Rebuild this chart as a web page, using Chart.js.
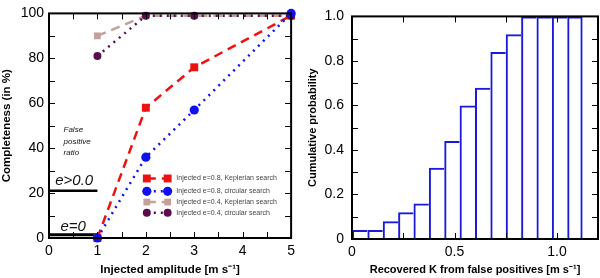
<!DOCTYPE html>
<html><head><meta charset="utf-8">
<script src="https://cdn.jsdelivr.net/npm/chart.js@4.4.0/dist/chart.umd.min.js"></script>
<style>
html,body{margin:0;padding:0;background:#fff;}
#wrap{position:relative;width:600px;height:278px;}
canvas{position:absolute;top:0;}
#c1{left:0;} #c2{left:300px;}
</style></head><body>
<div id="wrap"><canvas id="c1" width="300" height="278"></canvas><canvas id="c2" width="300" height="278"></canvas></div>
<script>
// ---- data: left panel ----
const amplitudes = [1, 2, 3, 5];
const e08Keplerian = [0, 58, 76, 99];
const e08Circular = [0, 36, 57, 100];
const e04Keplerian = [90, 99, 99, 99];
const e04Circular = [81, 99, 99, 99];
const seriesLabels = ['Injected e=0.8, Keplerian search','Injected e=0.8, circular search','Injected e=0.4, Keplerian search','Injected e=0.4, circular search'];
const falsePositiveLevels = [21, 1.5];       // e>0.0, e=0
const falsePositiveNames = ['e>0.0', 'e=0'];
const xTicksLeft = [0, 1, 2, 3, 4, 5];
const yTicksLeft = [0, 20, 40, 60, 80, 100];
// ---- data: right panel ----
const kBinLeftEdges = [0, 0.075, 0.15, 0.225, 0.3, 0.375, 0.45, 0.525, 0.6, 0.675, 0.75, 0.825, 0.9, 0.975, 1.05];
const kBinWidth = 0.075;
const cumulativeProb = [0.04, 0.04, 0.08, 0.12, 0.16, 0.32, 0.44, 0.60, 0.68, 0.84, 0.92, 1, 1, 1, 1];
const xTicksRight = [0, 0.5, 1];
const yTicksRight = [0, 0.2, 0.4, 0.6, 0.8, 1];

const FONT = '"Liberation Sans", Arial, Helvetica, sans-serif';
Chart.defaults.font.family = FONT;
Chart.defaults.color = '#000';

function frameTicks(xMinor, yMinor) {
  return {
    id: 'frameTicks',
    afterDraw(chart) {
      const {ctx, chartArea: a, scales: {x, y}} = chart;
      ctx.save();
      ctx.strokeStyle = '#000';
      ctx.lineWidth = 1;
      const xs = [];
      for (let v = x.min; v <= x.max + 1e-9; v += xMinor) xs.push(v);
      const ys = [];
      for (let v = y.min; v <= y.max + 1e-9; v += yMinor) ys.push(v);
      ctx.beginPath();
      xs.forEach(v => {
        const p = Math.round(x.getPixelForValue(v)) + 0.5;
        if (p <= a.left + 1 || p >= a.right - 1) return;
        ctx.moveTo(p, a.bottom); ctx.lineTo(p, a.bottom - 6);
        ctx.moveTo(p, a.top); ctx.lineTo(p, a.top + 6);
      });
      ys.forEach(v => {
        const p = Math.round(y.getPixelForValue(v)) + 0.5;
        if (p <= a.top + 1 || p >= a.bottom - 1) return;
        ctx.moveTo(a.left, p); ctx.lineTo(a.left + 6, p);
        ctx.moveTo(a.right, p); ctx.lineTo(a.right - 6, p);
      });
      ctx.stroke();
      ctx.lineWidth = 2;
      ctx.strokeRect(a.left, a.top, a.right - a.left, a.bottom - a.top);
      ctx.restore();
    }
  };
}

const annotLeft = {
  id: 'annotLeft',
  afterDatasetsDraw(chart) {
    const {ctx, scales: {x, y}} = chart;
    ctx.save();
    ctx.fillStyle = '#111';
    ctx.font = 'italic 8px ' + FONT;
    ctx.textAlign = 'left'; ctx.textBaseline = 'middle';
    ctx.fillText('False', x.getPixelForValue(0.3), y.getPixelForValue(48));
    ctx.fillText('positive', x.getPixelForValue(0.3), y.getPixelForValue(43));
    ctx.fillText('ratio', x.getPixelForValue(0.3), y.getPixelForValue(38));
    ctx.font = 'italic 15px ' + FONT;
    ctx.textAlign = 'center';
    ctx.fillText(falsePositiveNames[0], x.getPixelForValue(0.52), y.getPixelForValue(25.5));
    ctx.fillText(falsePositiveNames[1], x.getPixelForValue(0.5), y.getPixelForValue(5));
    // legend
    const ds = chart.data.datasets.slice(0, 4);
    const lx0 = x.getPixelForValue(2.02), lx1 = x.getPixelForValue(2.45), tx = x.getPixelForValue(2.63);
    const rowVals = [26.5, 20.8, 16, 11.2];
    ds.forEach((d, i) => {
      const py = y.getPixelForValue(rowVals[i]);
      ctx.save();
      ctx.strokeStyle = d.borderColor; ctx.lineWidth = d.borderWidth;
      ctx.setLineDash(d.borderDash || []);
      ctx.beginPath(); ctx.moveTo(lx0, py); ctx.lineTo(lx1, py); ctx.stroke();
      ctx.restore();
      [lx0, lx1].forEach(px => {
        ctx.fillStyle = d.backgroundColor;
        ctx.beginPath();
        if (d.pointStyle === 'rect') { const s = d.pointRadius * Math.SQRT1_2; ctx.rect(px - s, py - s, 2*s, 2*s); }
        else ctx.arc(px, py, d.pointRadius, 0, Math.PI*2);
        ctx.fill();
      });
      ctx.fillStyle = '#444';
      ctx.font = '7px ' + FONT;
      ctx.textAlign = 'left';
      ctx.fillText(d.label, tx, py);
    });
    ctx.restore();
  }
};

function mk(label, vals, color, style, radius, dash, order) {
  return {label, data: amplitudes.map((a, i) => ({x: a, y: vals[i]})), borderColor: color, backgroundColor: color,
    borderWidth: 2.5, borderDash: dash, pointStyle: style, pointRadius: radius, pointBorderWidth: 0,
    pointHoverRadius: radius, showLine: true, tension: 0, clip: false, order};
}

new Chart(document.getElementById('c1'), {
  type: 'line',
  data: {datasets: [
    mk(seriesLabels[0], e08Keplerian, '#ee1111', 'rect', 5.6, [9, 6], 3),
    mk(seriesLabels[1], e08Circular, '#1010ee', 'circle', 4.6, [2, 5], 1),
    mk(seriesLabels[2], e04Keplerian, '#c4a09a', 'rect', 4.8, [9, 6], 4),
    mk(seriesLabels[3], e04Circular, '#5a0c4c', 'circle', 4, [2, 5], 2),
    ...falsePositiveLevels.map((lv, i) => ({label: falsePositiveNames[i], data: [{x: 0, y: lv}, {x: 1, y: lv}],
      borderColor: '#000', borderWidth: i === 1 ? 3 : 2.5, pointRadius: 0, showLine: true, clip: false, order: 5}))
  ]},
  options: {
    responsive: false, animation: false, devicePixelRatio: 1,
    layout: {padding: {top: 6, right: 2, left: 0, bottom: 0}},
    plugins: {legend: {display: false}, tooltip: {enabled: false}},
    scales: {
      x: {type: 'linear', min: 0, max: 5, afterFit: s => { s.height = 40; },
        afterBuildTicks: s => { s.ticks = xTicksLeft.map(v => ({value: v})); },
        grid: {display: false, drawTicks: false}, border: {display: false},
        ticks: {font: {size: 14}, padding: 5, maxRotation: 0},
        title: {display: true, text: 'Injected amplitude [m s\u207B\u00B9]', font: {size: 11.5, weight: 'bold'}, padding: {top: 0, bottom: 1}}},
      y: {min: 0, max: 100, afterFit: s => { s.width = 49; },
        afterBuildTicks: s => { s.ticks = yTicksLeft.map(v => ({value: v})); },
        grid: {display: false, drawTicks: false}, border: {display: false},
        ticks: {font: {size: 14}, padding: 5},
        title: {display: true, text: 'Completeness (in %)', font: {size: 11.5, weight: 'bold'}, padding: {top: 0, bottom: 0}}}
    }
  },
  plugins: [frameTicks(0.5, 10), annotLeft]
});

const lastBin = cumulativeProb.length - 1;
new Chart(document.getElementById('c2'), {
  type: 'bar',
  data: {datasets: [{label: 'cumulative', data: kBinLeftEdges.map((e, i) => ({x: e + kBinWidth / 2, y: cumulativeProb[i]})),
    backgroundColor: 'rgba(0,0,0,0)', borderColor: '#1a1ad8',
    borderWidth: c => ({top: 2, left: 2, right: c.dataIndex === lastBin ? 2 : 0, bottom: 0}),
    borderSkipped: false, inflateAmount: 0,
    barPercentage: 1, categoryPercentage: 1, clip: false}]},
  options: {
    responsive: false, animation: false, devicePixelRatio: 1,
    layout: {padding: {top: 6, right: 2, left: 0, bottom: 0}},
    plugins: {legend: {display: false}, tooltip: {enabled: false}},
    scales: {
      x: {type: 'linear', min: 0, max: 1.2, offset: false, afterFit: s => { s.height = 39; },
        afterBuildTicks: s => { s.ticks = xTicksRight.map(v => ({value: v})); },
        grid: {display: false, drawTicks: false}, border: {display: false},
        ticks: {font: {size: 14}, padding: 5, maxRotation: 0},
        title: {display: true, text: 'Recovered K from false positives [m s\u207B\u00B9]', font: {size: 11, weight: 'bold'}, padding: {top: 0, bottom: 1}}},
      y: {min: 0, max: 1, afterFit: s => { s.width = 52; },
        afterBuildTicks: s => { s.ticks = yTicksRight.map(v => ({value: v})); },
        grid: {display: false, drawTicks: false}, border: {display: false},
        ticks: {font: {size: 14}, padding: 8},
        title: {display: true, text: 'Cumulative probability', font: {size: 11, weight: 'bold'}, padding: {top: 6, bottom: 0}}}
    }
  },
  plugins: [frameTicks(0.25, 0.1)]
});
</script></body></html>
